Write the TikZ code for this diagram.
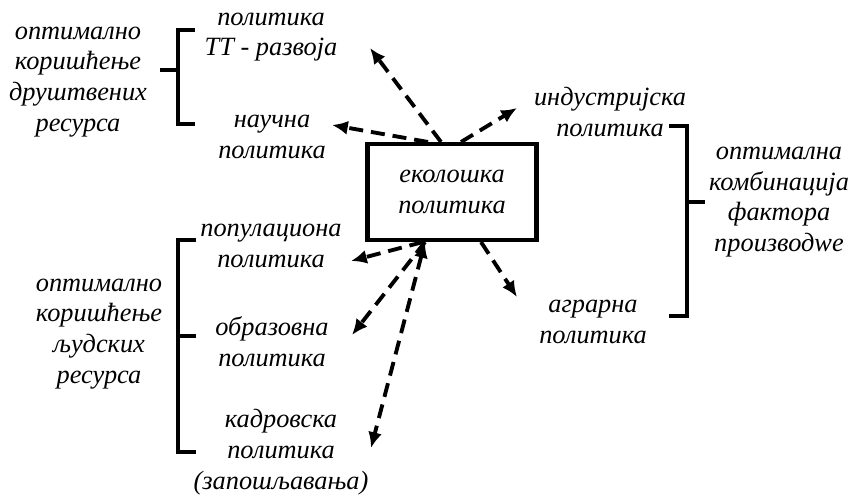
\documentclass[tikz,border=0pt]{standalone}
\usepackage{fontspec}
\newfontfamily\srbfont{Liberation Serif}
\usetikzlibrary{arrows.meta}

\begin{document}
\begin{tikzpicture}[x=0.02cm,y=-0.02cm]
\tikzset{
  lbl/.style={align=center,font=\srbfont\fontsize{15}{17.5}\selectfont\itshape,inner sep=0pt},
  arr/.style={line width=2.2pt,dash pattern=on 8pt off 4.5pt,-{Latex[length=9pt,width=8pt]}},
  brace/.style={line width=2.3pt}
}
\useasboundingbox (0,0) rectangle (866,497);
% central box
\node[lbl,draw,line width=2.3pt,minimum width=3.38cm,minimum height=1.92cm] (eko) at (452,192) {еколошка\\политика};
% labels
\node[lbl] (drustvo) at (78,82) {оптимално\\коришћење\\друштвених\\ресурса};
\node[lbl] (tt) at (271,37) {политика\\ТТ - развоја};
\node[lbl] (naucna) at (272,137) {научна\\политика};
\node[lbl] (industr) at (610,112) {индустријска\\политика};
\node[lbl] (agrar) at (593,322) {аграрна\\политика};
\node[lbl] (faktori) at (779,202) {оптимална\\комбинација\\фактора\\производwе};
\node[lbl] (popul) at (271,246) {популациона\\политика};
\node[lbl] (obraz) at (272,342) {образовна\\политика};
\node[lbl] (kadar) at (281,452) {кадровска\\политика\\(запошљавања)};
\node[lbl] (ljudi) at (99,334) {оптимално\\коришћење\\људских\\ресурса};
% brackets
\draw[brace] (195,30) -- (178,30) -- (178,124) -- (195,124);
\draw[brace] (160,70) -- (178,70);
\draw[brace] (196,240) -- (178,240) -- (178,452) -- (196,452);
\draw[brace] (178,336) -- (196,336);
\draw[brace] (669,126) -- (687,126) -- (687,316) -- (669,316);
\draw[brace] (687,202) -- (705,202);
% arrows
\draw[arr] ([shift={(-11,0)}]eko.north) -- (370,48);
\draw[arr] ([shift={(-24,0)}]eko.north) -- (332,125);
\draw[arr] ([shift={(9,0)}]eko.north) -- (517,108);
\draw[arr] ([shift={(29,0)}]eko.south) -- (517,297);
\draw[arr] ([shift={(-29,0)}]eko.south) -- (351,261);
\draw[arr] ([shift={(-27,0)}]eko.south) -- (352,335);
\draw[arr,{Latex[length=9pt,width=8pt]}-{Latex[length=9pt,width=8pt]}] ([shift={(-27,0)}]eko.south) -- (371,448);
\end{tikzpicture}
\end{document}
